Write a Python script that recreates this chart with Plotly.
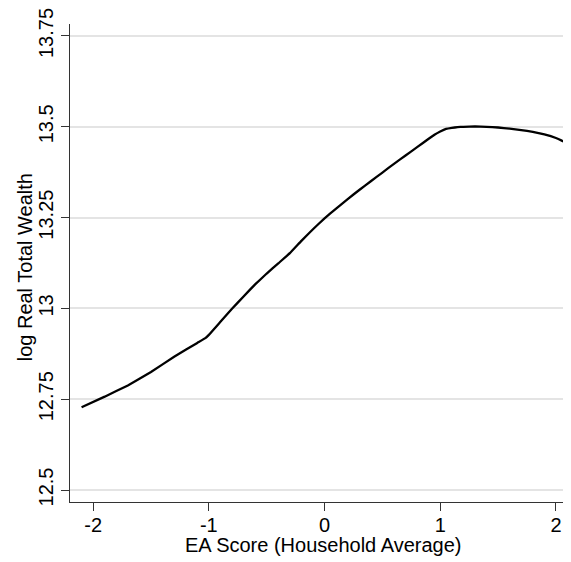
import plotly.graph_objects as go

# Data
ea_score = [-2.10, -1.90, -1.70, -1.50, -1.30, -1.10, -1.03, -1.00, -0.90, -0.80, -0.70, -0.60,
            -0.50, -0.40, -0.30, -0.20, -0.10, 0.00, 0.10, 0.20, 0.30, 0.40, 0.50, 0.60, 0.70,
            0.80, 0.90, 0.95, 1.00, 1.05, 1.10, 1.15,
            1.20, 1.30, 1.40, 1.50, 1.60, 1.70, 1.80, 1.90, 2.00, 2.05, 2.10]
log_wealth = [12.728, 12.757, 12.788, 12.825, 12.867, 12.905, 12.918, 12.927, 12.963, 12.999, 13.033, 13.066,
              13.096, 13.124, 13.152, 13.186, 13.218, 13.248, 13.275, 13.301, 13.326, 13.350, 13.374, 13.398, 13.421,
              13.444, 13.467, 13.478, 13.487, 13.494, 13.497, 13.499,
              13.500, 13.501, 13.500, 13.498, 13.495, 13.491, 13.486, 13.479, 13.469, 13.462, 13.454]

x_ticks = [-2, -1, 0, 1, 2]
y_ticks = [12.5, 12.75, 13, 13.25, 13.5, 13.75]
y_tick_labels = ["12.5", "12.75", "13", "13.25", "13.5", "13.75"]
x_title = "EA Score (Household Average)"
y_title = "log Real Total Wealth"

FONT = "Liberation Sans, Arial, Helvetica, sans-serif"

fig = go.Figure()
fig.add_trace(go.Scatter(
    x=ea_score, y=log_wealth, mode="lines",
    line=dict(color="black", width=2.3, shape="spline", smoothing=0.2),
    showlegend=False, hoverinfo="skip",
))

fig.update_layout(
    width=563, height=554,
    margin=dict(l=62, r=0, t=14, b=60),
    paper_bgcolor="white", plot_bgcolor="white",
    font=dict(family=FONT, size=20, color="black"),
    showlegend=False,
)
fig.update_xaxes(
    range=[-2.2, 2.13],
    tickvals=x_ticks, ticktext=[str(v) for v in x_ticks],
    showgrid=False, zeroline=False,
    showline=True, linecolor="#333333", linewidth=1.2,
    ticks="outside", ticklen=8, tickwidth=1.2, tickcolor="#333333",
    tickfont=dict(size=20), ticklabelstandoff=-3,
)
fig.update_yaxes(
    range=[12.467, 13.783],
    tickvals=y_ticks, ticktext=y_tick_labels, tickangle=-90,
    ticklabeloverflow="allow",
    showgrid=True, gridcolor="#e4e4e4", gridwidth=1.5, zeroline=False,
    showline=True, linecolor="#333333", linewidth=1.2,
    ticks="outside", ticklen=8, tickwidth=1.2, tickcolor="#333333",
    tickfont=dict(size=20),
)

fig.add_annotation(
    text=x_title, xref="paper", yref="paper", x=0.505, y=-0.09,
    xanchor="center", yanchor="middle", showarrow=False,
    font=dict(family=FONT, size=20, color="black"),
)
fig.add_annotation(
    text=y_title, xref="paper", yref="paper", x=-0.0898, y=0.491,
    xanchor="center", yanchor="middle", textangle=-90, showarrow=False,
    font=dict(family=FONT, size=20, color="black"),
)

fig.write_html("out.html")
